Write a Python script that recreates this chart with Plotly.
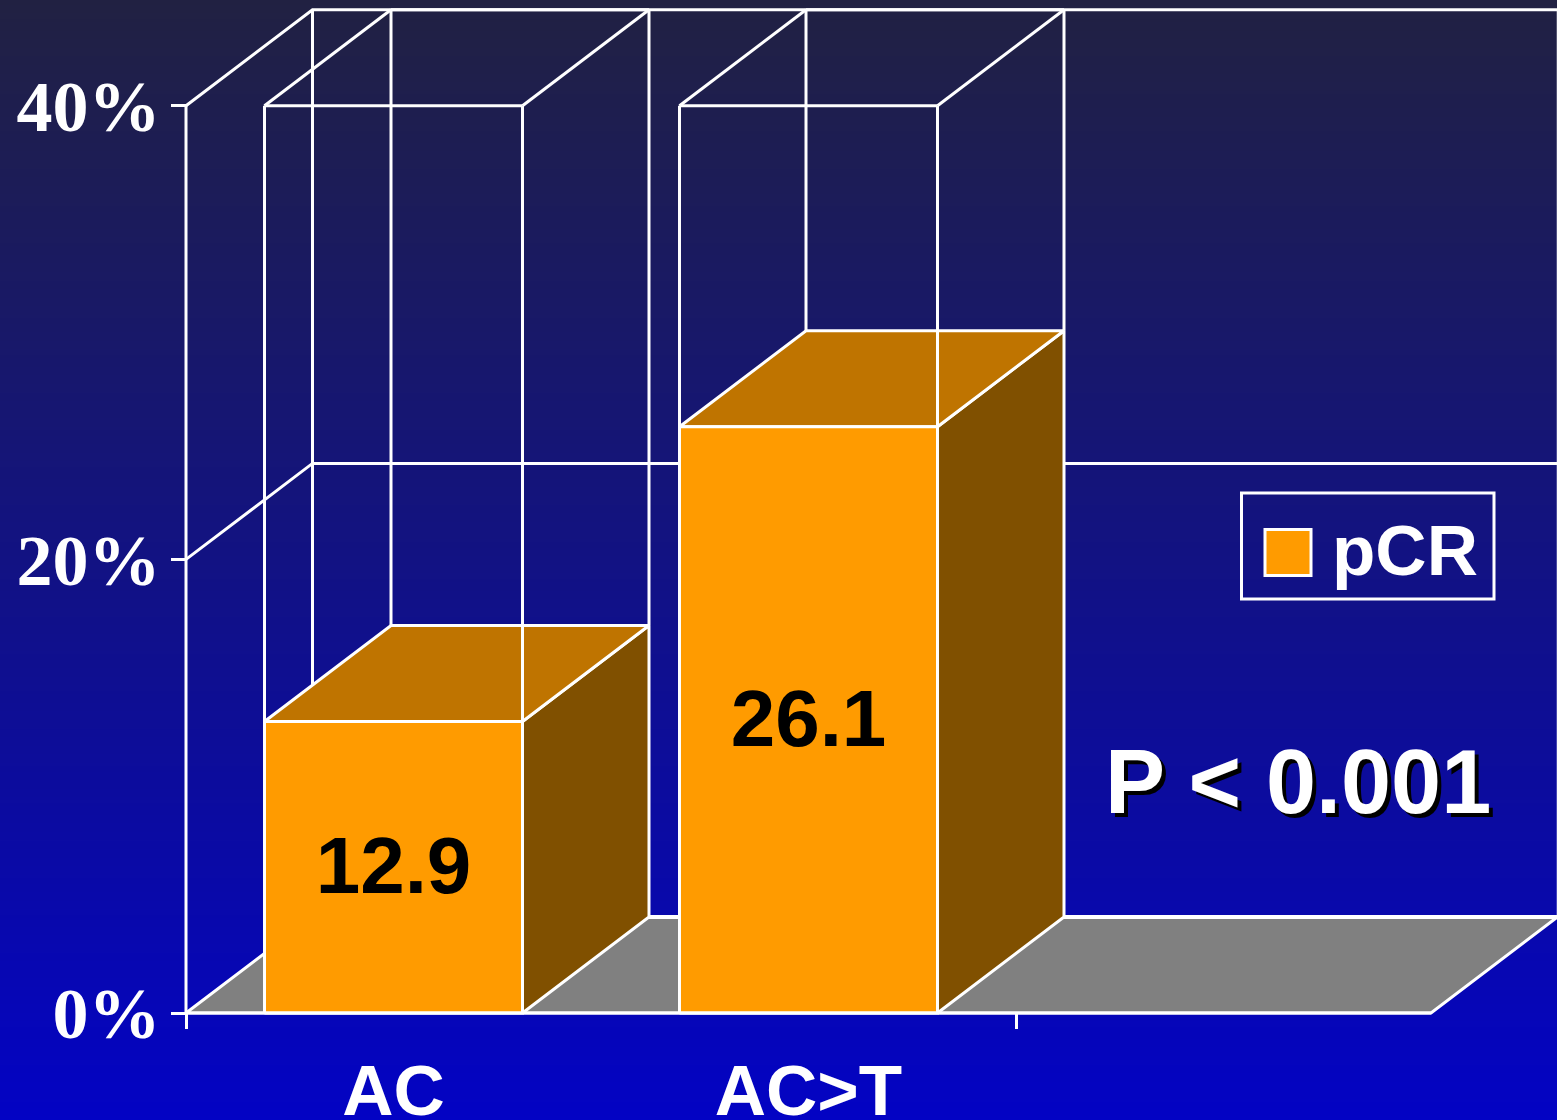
import plotly.graph_objects as go

# ---- data ----
categories = ["AC", "AC>T"]
bar_heights = [12.85, 25.85]
bar_labels = ["12.9", "26.1"]
series_name = "pCR"
y_ticks = [0, 20, 40]
y_tick_labels = ["0%", "20%", "40%"]
p_text = "P < 0.001"

# ---- geometry of the 3-D look, in axis units ----
W, H = 1557, 1120
X_PX0, X_UNIT = 186, 415      # pixel of category edge 0, pixels per category
Y_PX0, Y_UNIT = 1013, 22.68   # pixel of 0 %, pixels per 1 %
DX, DY = 126.5 / X_UNIT, 96 / Y_UNIT   # depth offset
BAR_W = 258 / X_UNIT
LABEL_DY = 6 / Y_UNIT
N_CAT = 3
Y_MAX = 40
x_range = [(0 - X_PX0) / X_UNIT, (W - X_PX0) / X_UNIT]
y_range = [(Y_PX0 - H) / Y_UNIT, Y_PX0 / Y_UNIT]

WHITE = "#ffffff"
ORANGE, ORANGE_TOP, ORANGE_SIDE, GREY = "#ff9b00", "#bf7400", "#805000", "#808080"
LW = 3

fig = go.Figure()

# background gradient
fig.add_trace(go.Heatmap(
    x=x_range, y=y_range, z=[[0, 0], [1, 1]], zsmooth="best",
    colorscale=[[0, "#0303c4"], [1, "#212142"]], showscale=False, hoverinfo="skip"))


def poly(xs, ys, fill=None, width=LW):
    """A closed filled shape (fill given) or an open white polyline."""
    fig.add_trace(go.Scatter(
        x=xs, y=ys, mode="lines", showlegend=False, hoverinfo="skip",
        fill="toself" if fill else "none", fillcolor=fill,
        line=dict(color=WHITE, width=width)))


# floor
poly([0, N_CAT, N_CAT + DX, DX, 0], [0, 0, DY, DY, 0], fill=GREY)
poly([DX, N_CAT + DX], [DY, DY], width=4)

# walls and gridlines
poly([0, 0], [0, Y_MAX])
poly([DX, DX], [DY, Y_MAX + DY])
poly([N_CAT + DX, N_CAT + DX], [DY, Y_MAX + DY], width=1.5)
for t in y_ticks[1:]:
    poly([0, DX, N_CAT + DX], [t, t + DY, t + DY])

# bars with their wire frame up to the top of the axis
for i, v in enumerate(bar_heights):
    x0 = i + (1 - BAR_W) / 2
    x1 = x0 + BAR_W
    # back of the frame
    poly([x0 + DX, x0 + DX], [v + DY, Y_MAX + DY])
    poly([x1 + DX, x1 + DX], [v + DY, Y_MAX + DY])
    poly([x0 + DX, x1 + DX], [Y_MAX + DY, Y_MAX + DY])
    # solid part
    poly([x1, x1 + DX, x1 + DX, x1, x1], [0, DY, v + DY, v, 0], fill=ORANGE_SIDE)
    poly([x0, x0 + DX, x1 + DX, x1, x0], [v, v + DY, v + DY, v, v], fill=ORANGE_TOP)
    poly([x0, x1, x1, x0, x0], [0, 0, v, v, 0], fill=ORANGE)
    # front of the frame
    poly([x0, x0], [v, Y_MAX])
    poly([x1, x1], [v, Y_MAX])
    poly([x0, x1], [Y_MAX, Y_MAX])
    poly([x0, x0 + DX], [Y_MAX, Y_MAX + DY])
    poly([x1, x1 + DX], [Y_MAX, Y_MAX + DY])

# baseline
poly([0, N_CAT], [0, 0])

# data labels, on the overlaid axis that carries the category labels
fig.add_trace(go.Scatter(
    x=[i + 0.5 for i in range(len(categories))],
    y=[v / 2 - LABEL_DY for v in bar_heights],
    text=bar_labels, mode="text", textposition="middle center", xaxis="x2",
    textfont=dict(family="Liberation Sans", size=80, color="#000000", weight="bold"),
    showlegend=False, hoverinfo="skip"))

SERIF = dict(family="Liberation Serif", size=72, color=WHITE, weight="bold")
SANS = dict(family="Liberation Sans", color=WHITE, weight="bold")

fig.update_layout(
    width=W, height=H, autosize=False,
    margin=dict(l=0, r=0, t=0, b=0, pad=0, autoexpand=False),
    paper_bgcolor="#0a0a9c", plot_bgcolor="rgba(0,0,0,0)",
    showlegend=False,
    xaxis=dict(
        range=x_range, anchor="free", position=(H - Y_PX0) / H,
        tickvals=[0, 2], showticklabels=False, ticks="outside", ticklen=15,
        tickwidth=3, tickcolor=WHITE, showgrid=False, zeroline=False, showline=False),
    xaxis2=dict(
        range=x_range, overlaying="x", anchor="free", position=(H - Y_PX0) / H,
        tickvals=[i + 0.5 for i in range(len(categories))], ticktext=categories,
        ticks="", ticklabelstandoff=30, tickfont=dict(size=71, **SANS),
        showgrid=False, zeroline=False, showline=False),
    yaxis=dict(
        range=y_range, anchor="free", position=X_PX0 / W,
        tickvals=y_ticks, ticktext=y_tick_labels, ticks="outside", ticklen=15,
        tickwidth=3, tickcolor=WHITE, ticklabelstandoff=-4, tickfont=SERIF,
        showgrid=False, zeroline=False, showline=False),
    # legend box
    shapes=[
        dict(type="rect", xref="paper", yref="paper", layer="above",
             x0=1241.5 / W, x1=1494 / W, y0=1 - 599 / H, y1=1 - 493 / H,
             line=dict(color=WHITE, width=3), fillcolor="rgba(0,0,0,0)"),
        dict(type="rect", xref="paper", yref="paper", layer="above",
             x0=1265 / W, x1=1311 / W, y0=1 - 575.5 / H, y1=1 - 529.5 / H,
             line=dict(color=WHITE, width=3), fillcolor=ORANGE),
    ],
    annotations=[
        dict(text=series_name, xref="paper", yref="paper", x=1330 / W, y=1 - 551 / H,
             xanchor="left", yanchor="middle", showarrow=False, font=dict(size=71, **SANS)),
        dict(text=p_text, xref="paper", yref="paper", x=1298 / W, y=1 - 782 / H,
             xanchor="center", yanchor="middle", showarrow=False,
             font=dict(size=90, shadow="4px 4px 0px #000000", **SANS)),
    ],
)

fig.write_html("out.html", config={"displayModeBar": False},
               post_script="document.body.style.margin='0';document.documentElement.style.overflow='hidden';")
